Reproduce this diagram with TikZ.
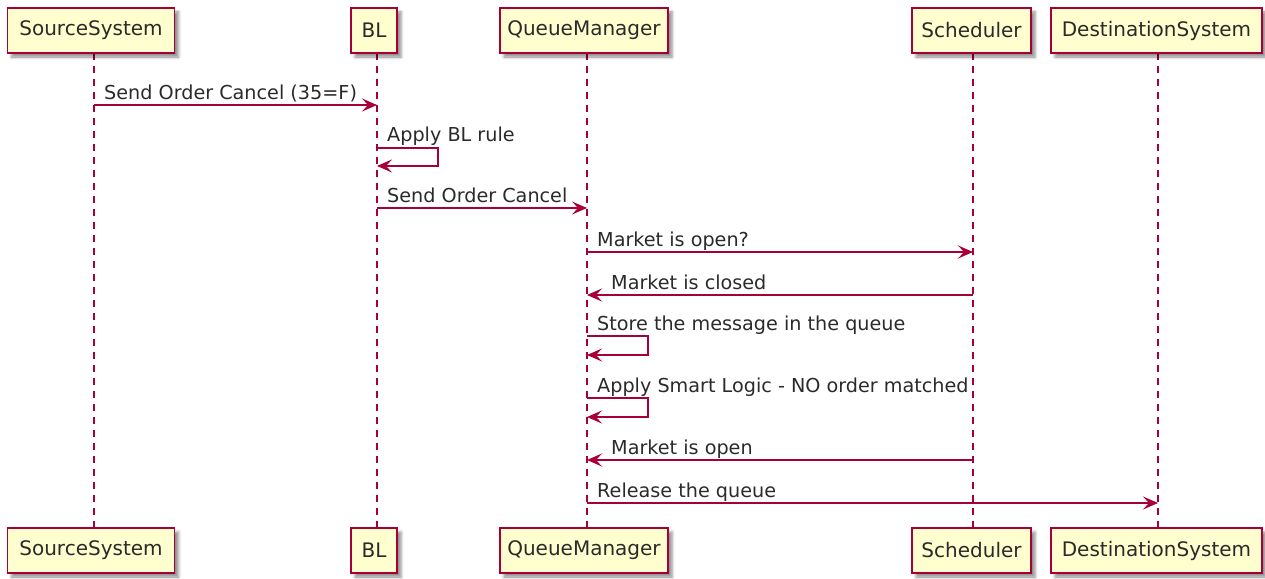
\documentclass[tikz,border=0pt]{standalone}
\usepackage{fontspec}
\setmainfont{DejaVu Sans}
\usetikzlibrary{arrows.meta,shadows.blur}
\definecolor{pu}{HTML}{A80036}
\definecolor{pfill}{HTML}{FEFECE}
\definecolor{txt}{HTML}{2A2A2A}
\begin{document}
\begin{tikzpicture}[x=1pt,y=-1pt,
  part/.style={draw=pu, line width=1.6pt, fill=pfill, minimum height=45pt, inner sep=0pt,
    font=\fontsize{20}{22}\selectfont, text=txt,
    blur shadow={shadow xshift=4pt, shadow yshift=-4pt, shadow blur radius=3pt, shadow opacity=45}},
  life/.style={draw=pu, line width=1.2pt, dash pattern=on 7pt off 6pt},
  msg/.style={draw=pu, line width=1.3pt, -{Stealth[length=15pt,width=13pt,inset=6pt]}},
  lbl/.style={anchor=base west, inner sep=0pt, font=\fontsize{19.2}{22}\selectfont, text=txt}]
\useasboundingbox (0,0) rectangle (1265,578);
% lifeline ends
\coordinate (ssT) at (94,53);   \coordinate (ssB) at (94,528);
\coordinate (blT) at (377,53);  \coordinate (blB) at (377,528);
\coordinate (qmT) at (587,53);  \coordinate (qmB) at (587,528);
\coordinate (scT) at (973,53);  \coordinate (scB) at (973,528);
\coordinate (dsT) at (1158,53); \coordinate (dsB) at (1158,528);
\draw[life] (ssT) -- (ssB);
\draw[life] (blT) -- (blB);
\draw[life] (qmT) -- (qmB);
\draw[life] (scT) -- (scB);
\draw[life] (dsT) -- (dsB);
% participants
\node[part, minimum width=167pt] (ss1) at (91,30.5) {SourceSystem};
\node[part, minimum width=46pt]  (bl1) at (374,30.5) {BL};
\node[part, minimum width=168pt] (qm1) at (584,30.5) {QueueManager};
\node[part, minimum width=119pt] (sc1) at (971.5,30.5) {Scheduler};
\node[part, minimum width=211pt] (ds1) at (1156.5,30.5) {DestinationSystem};
\node[part, minimum width=167pt] (ss2) at (91,550.5) {SourceSystem};
\node[part, minimum width=46pt]  (bl2) at (374,550.5) {BL};
\node[part, minimum width=168pt] (qm2) at (584,550.5) {QueueManager};
\node[part, minimum width=119pt] (sc2) at (971.5,550.5) {Scheduler};
\node[part, minimum width=211pt] (ds2) at (1156.5,550.5) {DestinationSystem};
% messages
\draw[msg] (ssT |- 0,105) -- (blT |- 0,105);
\node[lbl] (l1) at (104,99) {Send Order Cancel (35=F)};
\draw[msg] (blT |- 0,148) -- (438,148) -- (438,166) -- (blT |- 0,166);
\node[lbl] (l2) at (387,141) {Apply BL rule};
\draw[msg] (blT |- 0,208) -- (qmT |- 0,208);
\node[lbl] (l3) at (387,202) {Send Order Cancel};
\draw[msg] (qmT |- 0,252) -- (scT |- 0,252);
\node[lbl] (l4) at (597,246) {Market is open?};
\draw[msg] (scT |- 0,295) -- (qmT |- 0,295);
\node[lbl] (l5) at (611,289) {Market is closed};
\draw[msg] (qmT |- 0,336) -- (648,336) -- (648,355) -- (qmT |- 0,355);
\node[lbl] (l6) at (597,330) {Store the message in the queue};
\draw[msg] (qmT |- 0,398) -- (648,398) -- (648,417) -- (qmT |- 0,417);
\node[lbl] (l7) at (597,392) {Apply Smart Logic - NO order matched};
\draw[msg] (scT |- 0,460) -- (qmT |- 0,460);
\node[lbl] (l8) at (611,454) {Market is open};
\draw[msg] (qmT |- 0,503) -- (dsT |- 0,503);
\node[lbl] (l9) at (597,497) {Release the queue};
\end{tikzpicture}
\end{document}
